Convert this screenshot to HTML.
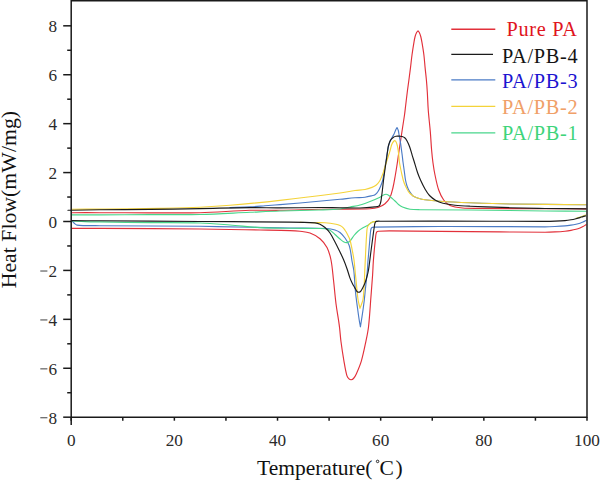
<!DOCTYPE html>
<html><head><meta charset="utf-8"><style>
html,body{margin:0;padding:0;background:#fff;width:600px;height:481px;overflow:hidden}
svg{display:block}
text{font-family:"Liberation Serif",serif}
</style></head><body>
<svg width="600" height="481" viewBox="0 0 600 481">
<rect width="600" height="481" fill="#fff"/>
<g fill="none" stroke-width="1.15" stroke-linejoin="round" stroke-linecap="round">
<path d="M576,218.3 C580,217.4 583,216.3 585.6,215.1" stroke="#d8d850"/>
<path d="M72.00,212.70 C81.33,212.70 90.67,212.69 100.00,212.70 C116.67,212.72 133.33,212.80 150.00,212.80 C166.67,212.80 183.34,213.12 200.00,212.70 C216.68,212.28 233.33,210.80 250.00,210.30 C259.99,210.00 270.00,210.44 280.00,210.30 C293.34,210.11 306.67,209.54 320.00,209.30 C326.67,209.18 333.33,209.28 340.00,209.20 C350.00,209.08 360.02,209.15 370.00,208.70 C372.69,208.58 375.48,208.34 378.00,207.50 C380.48,206.67 383.00,205.37 385.00,203.70 C387.00,202.03 388.85,199.84 390.00,197.50 C391.51,194.44 392.18,190.88 393.00,187.50 C393.92,183.71 394.53,179.84 395.20,176.00 C395.96,171.68 396.64,167.34 397.30,163.00 C398.01,158.34 398.61,153.66 399.30,149.00 C399.84,145.33 400.44,141.67 401.00,138.00 C401.51,134.67 401.99,131.33 402.50,128.00 C403.16,123.67 403.89,119.34 404.50,115.00 C404.92,112.01 405.24,109.00 405.60,106.00 C406.20,101.00 406.77,96.00 407.40,91.00 C407.87,87.33 408.41,83.67 408.90,80.00 C409.45,75.87 409.99,71.74 410.50,67.60 C411.02,63.40 411.43,59.19 412.00,55.00 C412.56,50.89 413.21,46.79 413.90,42.70 C414.25,40.62 414.57,38.53 415.10,36.50 C415.47,35.10 415.95,33.68 416.60,32.40 C416.92,31.78 417.53,31.33 418.00,30.80 C418.43,31.33 419.01,31.79 419.30,32.40 C419.92,33.69 420.38,35.10 420.75,36.50 C421.28,38.53 421.65,40.62 422.00,42.70 C422.70,46.79 423.39,50.88 423.90,55.00 C424.42,59.18 424.68,63.40 425.10,67.60 C425.51,71.74 426.03,75.86 426.40,80.00 C426.76,83.99 427.05,88.00 427.30,92.00 C427.69,98.26 427.83,104.54 428.30,110.80 C428.83,117.74 429.72,124.66 430.30,131.60 C430.82,137.73 431.07,143.87 431.60,150.00 C431.97,154.34 432.41,158.68 433.00,163.00 C433.55,167.02 434.16,171.04 435.00,175.00 C436.06,180.04 437.02,185.17 438.70,190.00 C439.92,193.50 441.55,197.04 443.70,200.00 C445.31,202.21 447.52,204.44 450.00,205.50 C453.78,207.11 458.29,207.59 462.50,208.00 C468.29,208.56 474.17,208.35 480.00,208.40 C501.67,208.58 523.33,208.62 545.00,208.70 C558.67,208.75 572.33,208.77 586.00,208.80" stroke="#e2303a"/>
<path d="M72.00,228.30 C81.33,228.33 90.67,228.35 100.00,228.40 C133.33,228.58 166.67,228.67 200.00,229.00 C220.00,229.20 240.00,229.64 260.00,230.00 C270.00,230.18 280.01,230.28 290.00,230.60 C293.34,230.71 296.69,230.90 300.00,231.30 C303.35,231.70 306.88,231.84 310.00,233.00 C313.54,234.31 317.13,236.26 320.00,238.70 C322.80,241.09 325.31,244.22 327.00,247.50 C328.97,251.32 330.15,255.73 331.00,260.00 C332.31,266.56 332.74,273.33 333.50,280.00 C334.40,287.89 335.01,295.82 336.00,303.70 C336.68,309.15 337.69,314.56 338.50,320.00 C338.89,322.66 339.29,325.33 339.60,328.00 C340.13,332.59 340.40,337.22 341.00,341.80 C341.83,348.15 342.81,354.49 343.90,360.80 C344.74,365.66 345.47,370.61 346.80,375.30 C347.17,376.61 348.07,377.87 349.00,378.80 C349.54,379.34 350.48,379.75 351.20,379.70 C351.98,379.65 352.95,379.13 353.50,378.50 C354.65,377.20 355.57,375.53 356.30,373.90 C358.20,369.63 360.07,365.28 361.40,360.80 C363.24,354.58 364.46,348.16 365.80,341.80 C366.83,336.89 367.93,331.98 368.50,327.00 C369.67,316.71 370.19,306.33 371.00,296.00 C371.55,289.00 372.13,282.00 372.60,275.00 C372.89,270.67 373.01,266.33 373.30,262.00 C373.57,258.00 373.94,254.00 374.30,250.00 C374.60,246.66 374.95,243.33 375.30,240.00 C375.51,238.00 375.64,235.97 376.00,234.00 C376.14,233.24 376.33,232.33 376.80,231.80 C377.16,231.39 377.90,231.24 378.50,231.20 C382.30,230.94 386.17,230.89 390.00,230.90 C406.67,230.95 423.33,231.25 440.00,231.40 C460.00,231.58 480.00,231.75 500.00,231.90 C515.00,232.01 530.00,232.20 545.00,232.20 C548.33,232.20 551.67,232.07 555.00,231.90 C558.34,231.73 561.67,231.51 565.00,231.20 C567.01,231.01 569.01,230.74 571.00,230.40 C572.68,230.11 574.35,229.74 576.00,229.30 C577.35,228.94 578.69,228.50 580.00,228.00 C581.03,227.60 582.04,227.13 583.00,226.60 C584.04,226.03 585.00,225.33 586.00,224.70" stroke="#e2303a"/>
<path d="M230.00,207.60 C236.67,207.37 243.34,207.24 250.00,206.90 C255.01,206.64 260.00,206.18 265.00,205.80 C270.00,205.42 275.00,205.00 280.00,204.60 C286.67,204.07 293.34,203.59 300.00,203.00 C313.34,201.82 326.67,200.56 340.00,199.30 C345.00,198.83 349.99,198.22 355.00,197.80 C358.33,197.52 361.70,197.61 365.00,197.20 C367.36,196.91 369.69,196.28 372.00,195.70 C373.02,195.44 374.16,195.29 375.00,194.70 C376.16,193.89 377.22,192.72 378.00,191.50 C379.22,189.59 380.10,187.41 381.00,185.30 C381.60,183.91 382.12,182.46 382.50,181.00 C383.02,179.03 383.34,177.01 383.70,175.00 C384.17,172.34 384.57,169.67 385.00,167.00 C385.43,164.33 385.87,161.67 386.30,159.00 C386.67,156.67 387.01,154.33 387.40,152.00 C387.74,150.00 387.97,147.96 388.50,146.00 C389.01,144.12 389.74,142.29 390.50,140.50 C391.01,139.29 391.67,138.15 392.30,137.00 C392.77,136.15 393.37,135.37 393.80,134.50 C394.44,133.20 394.89,131.81 395.50,130.50 C395.96,129.51 396.50,128.57 397.00,127.60 C397.43,128.57 398.01,129.49 398.30,130.50 C398.67,131.79 398.76,133.17 399.00,134.50 C399.50,137.27 400.07,140.02 400.50,142.80 C401.14,146.96 401.66,151.13 402.20,155.30 C402.49,157.53 402.71,159.77 403.00,162.00 C403.44,165.34 403.94,168.67 404.40,172.00 C404.77,174.67 405.01,177.36 405.50,180.00 C405.88,182.02 406.35,184.05 407.00,186.00 C407.52,187.55 408.19,189.08 409.00,190.50 C409.86,192.01 410.90,193.46 412.00,194.80 C412.57,195.49 413.24,196.16 414.00,196.60 C415.07,197.22 416.30,197.65 417.50,198.00 C419.96,198.72 422.46,199.43 425.00,199.80 C429.96,200.53 434.99,200.97 440.00,201.30 C449.99,201.97 460.00,202.41 470.00,202.80 C483.33,203.31 496.66,203.78 510.00,204.00 C535.33,204.41 560.67,204.47 586.00,204.70" stroke="#4b7bc6"/>
<path d="M72.00,221.00 C72.67,221.67 73.27,222.40 74.00,223.00 C74.94,223.77 75.85,224.83 77.00,225.10 C79.52,225.69 82.33,225.53 85.00,225.60 C90.00,225.73 95.00,225.67 100.00,225.70 C133.33,225.90 166.67,225.94 200.00,226.30 C216.67,226.48 233.33,226.99 250.00,227.30 C263.33,227.55 276.67,227.79 290.00,228.00 C302.33,228.19 314.70,227.95 327.00,228.50 C329.70,228.62 332.43,229.21 335.00,230.00 C336.76,230.54 338.57,231.36 340.00,232.50 C341.90,234.02 343.56,236.00 345.00,238.00 C346.56,240.17 347.96,242.55 349.00,245.00 C349.80,246.88 350.12,248.98 350.50,251.00 C351.12,254.31 351.43,257.68 352.00,261.00 C352.52,264.01 353.34,266.98 353.75,270.00 C354.20,273.31 354.33,276.67 354.60,280.00 C354.95,284.33 355.15,288.68 355.60,293.00 C356.12,298.01 356.83,303.00 357.50,308.00 C358.03,312.00 358.58,316.01 359.20,320.00 C359.55,322.27 360.00,324.53 360.40,326.80 C360.87,323.87 361.35,320.94 361.80,318.00 C362.21,315.34 362.63,312.67 363.00,310.00 C363.46,306.67 363.92,303.34 364.30,300.00 C364.68,296.67 364.95,293.33 365.30,290.00 C365.65,286.66 366.05,283.34 366.40,280.00 C366.75,276.67 367.12,273.34 367.40,270.00 C367.62,267.34 367.70,264.66 367.90,262.00 C368.07,259.66 368.30,257.33 368.50,255.00 C368.73,252.33 368.97,249.67 369.20,247.00 C369.40,244.67 369.60,242.33 369.80,240.00 C370.00,237.67 370.15,235.33 370.40,233.00 C370.55,231.66 370.63,230.27 371.00,229.00 C371.16,228.43 371.53,227.80 372.00,227.50 C372.53,227.16 373.32,227.11 374.00,227.10 C395.99,226.78 418.00,226.54 440.00,226.50 C475.00,226.44 510.00,226.80 545.00,226.80 C548.33,226.80 551.67,226.65 555.00,226.50 C558.34,226.35 561.68,226.19 565.00,225.90 C567.01,225.72 569.01,225.41 571.00,225.10 C572.67,224.84 574.34,224.55 576.00,224.20 C577.34,223.92 578.69,223.59 580.00,223.20 C581.02,222.89 582.03,222.54 583.00,222.10 C584.03,221.64 585.00,221.03 586.00,220.50" stroke="#4b7bc6"/>
<path d="M72.00,214.80 C81.33,214.83 90.67,214.92 100.00,214.90 C116.67,214.86 133.33,214.67 150.00,214.60 C166.67,214.53 183.34,214.88 200.00,214.50 C216.67,214.12 233.33,213.03 250.00,212.30 C260.00,211.86 270.00,211.33 280.00,211.00 C293.33,210.56 306.67,210.44 320.00,210.00 C326.67,209.78 333.37,209.66 340.00,209.00 C343.37,208.66 346.67,207.67 350.00,207.00 C353.33,206.33 356.73,205.90 360.00,205.00 C363.40,204.07 366.71,202.78 370.00,201.50 C373.38,200.18 376.73,198.76 380.00,197.20 C381.07,196.69 381.94,195.81 383.00,195.30 C383.94,194.84 385.00,194.32 386.00,194.30 C386.84,194.28 387.77,194.73 388.50,195.20 C389.44,195.80 390.16,196.75 391.00,197.50 C392.32,198.68 393.71,199.79 395.00,201.00 C396.21,202.13 397.22,203.48 398.50,204.50 C399.72,205.48 401.06,206.41 402.50,207.00 C404.89,207.98 407.44,208.81 410.00,209.20 C413.28,209.71 416.66,209.66 420.00,209.70 C436.66,209.92 453.33,209.83 470.00,210.00 C495.00,210.26 520.00,210.72 545.00,211.00 C558.67,211.15 572.33,211.20 586.00,211.30" stroke="#49d68b"/>
<path d="M72.00,221.00 C76.33,221.20 80.66,221.46 85.00,221.60 C90.00,221.76 95.00,221.82 100.00,221.90 C116.67,222.16 133.33,222.42 150.00,222.60 C166.67,222.78 183.35,222.50 200.00,223.00 C210.01,223.30 220.01,224.23 230.00,225.00 C240.01,225.77 249.98,227.05 260.00,227.60 C269.98,228.15 280.00,228.15 290.00,228.30 C300.00,228.45 310.00,228.36 320.00,228.50 C321.67,228.52 323.37,228.51 325.00,228.80 C326.70,229.11 328.52,229.46 330.00,230.30 C331.85,231.36 333.36,233.07 335.00,234.50 C336.69,235.97 338.28,237.57 340.00,239.00 C341.28,240.07 342.55,241.26 344.00,242.00 C344.89,242.46 346.05,242.76 347.00,242.60 C348.05,242.42 349.22,241.79 350.00,241.00 C351.56,239.42 352.57,237.25 354.00,235.50 C355.24,233.99 356.52,232.46 358.00,231.20 C359.52,229.90 361.27,228.84 363.00,227.80 C364.61,226.84 366.40,226.16 368.00,225.20 C368.73,224.76 369.32,224.11 370.00,223.60 C370.65,223.11 371.26,222.51 372.00,222.20 C372.93,221.81 373.99,221.66 375.00,221.50 C375.66,221.39 376.33,221.43 377.00,221.40" stroke="#49d68b"/>
<path d="M72.00,209.20 C81.33,209.17 90.67,209.15 100.00,209.10 C110.00,209.05 120.00,209.02 130.00,208.90 C140.00,208.78 150.00,208.64 160.00,208.40 C173.34,208.08 186.68,207.79 200.00,207.20 C210.01,206.76 220.02,206.15 230.00,205.30 C246.68,203.88 263.36,202.26 280.00,200.40 C300.03,198.16 320.02,195.64 340.00,193.00 C345.02,192.34 349.98,191.20 355.00,190.50 C358.32,190.04 361.72,190.10 365.00,189.50 C367.39,189.06 369.73,188.27 372.00,187.40 C373.40,186.87 374.86,186.24 376.00,185.30 C377.36,184.18 378.53,182.70 379.50,181.20 C380.53,179.60 381.25,177.77 382.00,176.00 C382.58,174.63 383.05,173.22 383.50,171.80 C384.05,170.08 384.47,168.32 385.00,166.60 C385.64,164.52 386.33,162.47 387.00,160.40 C387.67,158.33 388.36,156.28 389.00,154.20 C389.53,152.48 390.01,150.74 390.50,149.00 C390.92,147.50 391.18,145.93 391.75,144.50 C392.18,143.43 392.76,142.34 393.50,141.50 C393.88,141.07 394.68,140.54 395.10,140.70 C395.64,140.91 396.12,141.90 396.40,142.60 C396.95,144.00 397.32,145.51 397.60,147.00 C398.12,149.74 398.47,152.53 398.80,155.30 C399.07,157.53 399.10,159.78 399.40,162.00 C399.67,164.01 400.10,166.01 400.50,168.00 C400.97,170.34 401.48,172.67 402.00,175.00 C402.38,176.67 402.71,178.36 403.20,180.00 C403.71,181.69 404.31,183.37 405.00,185.00 C405.58,186.37 406.28,187.69 407.00,189.00 C407.62,190.13 408.22,191.29 409.00,192.30 C409.72,193.22 410.61,194.03 411.50,194.80 C412.28,195.47 413.10,196.12 414.00,196.60 C415.10,197.19 416.30,197.65 417.50,198.00 C419.96,198.72 422.46,199.43 425.00,199.80 C429.96,200.53 434.99,200.97 440.00,201.30 C449.99,201.97 460.00,202.41 470.00,202.80 C483.33,203.31 496.66,203.78 510.00,204.00 C535.33,204.41 560.67,204.47 586.00,204.70" stroke="#f4d33a"/>
<path d="M300.00,222.40 C305.00,222.50 310.00,222.62 315.00,222.70 C318.33,222.75 321.68,222.55 325.00,222.80 C328.68,223.08 332.37,223.62 336.00,224.30 C337.37,224.56 338.74,225.01 340.00,225.60 C341.08,226.11 342.14,226.79 343.00,227.60 C343.80,228.36 344.37,229.37 345.00,230.30 C345.71,231.34 346.38,232.41 347.00,233.50 C347.55,234.47 348.03,235.49 348.50,236.50 C349.03,237.65 349.66,238.78 350.00,240.00 C350.83,242.95 351.40,245.99 352.00,249.00 C352.73,252.65 353.47,256.31 354.00,260.00 C354.47,263.31 354.67,266.67 355.00,270.00 C355.50,275.00 355.98,280.00 356.50,285.00 C357.02,290.00 357.35,295.04 358.10,300.00 C358.52,302.80 359.37,305.53 360.00,308.30 C360.53,306.87 361.12,305.45 361.60,304.00 C362.15,302.35 362.87,300.72 363.10,299.00 C363.73,294.38 363.93,289.67 364.20,285.00 C364.49,280.01 364.58,275.00 364.80,270.00 C364.92,267.33 365.07,264.67 365.20,262.00 C365.47,256.33 365.71,250.67 366.00,245.00 C366.17,241.67 366.36,238.33 366.60,235.00 C366.76,232.66 366.79,230.28 367.20,228.00 C367.36,227.11 367.82,226.26 368.30,225.50 C368.75,224.79 369.36,224.15 370.00,223.60 C370.60,223.08 371.27,222.59 372.00,222.30 C372.94,221.92 373.99,221.78 375.00,221.60 C375.66,221.48 376.33,221.47 377.00,221.40" stroke="#f4d33a"/>
<path d="M68.00,210.30 C69.33,210.27 70.67,210.22 72.00,210.20 C81.33,210.05 90.67,209.90 100.00,209.80 C116.67,209.63 133.33,209.60 150.00,209.40 C166.67,209.20 183.33,208.90 200.00,208.60 C216.67,208.30 233.33,207.75 250.00,207.60 C260.00,207.51 270.00,207.91 280.00,207.90 C293.33,207.88 306.67,207.52 320.00,207.50 C326.67,207.49 333.33,207.72 340.00,207.80 C346.67,207.88 353.34,208.17 360.00,208.00 C365.01,207.87 370.02,207.42 375.00,206.90 C376.36,206.76 377.99,206.72 379.00,206.00 C379.82,205.42 380.18,204.06 380.50,203.00 C380.98,201.39 381.15,199.67 381.40,198.00 C381.75,195.67 382.02,193.34 382.30,191.00 C382.66,188.00 382.94,185.00 383.30,182.00 C383.58,179.66 383.89,177.33 384.20,175.00 C384.56,172.33 384.92,169.66 385.30,167.00 C385.68,164.33 386.12,161.67 386.50,159.00 C386.85,156.50 387.13,153.99 387.50,151.50 C387.80,149.49 388.00,147.46 388.50,145.50 C388.94,143.79 389.41,141.98 390.30,140.50 C391.07,139.22 392.30,138.10 393.50,137.20 C394.20,136.67 395.13,136.33 396.00,136.20 C397.29,136.00 398.67,136.13 400.00,136.20 C400.67,136.23 401.37,136.29 402.00,136.50 C402.94,136.82 403.98,137.15 404.70,137.80 C405.71,138.72 406.53,139.97 407.20,141.20 C408.20,143.04 409.00,145.02 409.70,147.00 C410.66,149.72 411.35,152.54 412.20,155.30 C412.78,157.20 413.41,159.10 414.00,161.00 C415.18,164.83 416.20,168.71 417.50,172.50 C418.37,175.05 419.39,177.55 420.50,180.00 C421.89,183.05 423.32,186.11 425.00,189.00 C426.32,191.27 427.72,193.60 429.50,195.50 C431.22,197.33 433.32,198.95 435.50,200.20 C437.82,201.52 440.41,202.53 443.00,203.20 C446.91,204.20 450.97,204.75 455.00,205.20 C459.97,205.75 464.99,205.97 470.00,206.20 C483.33,206.81 496.66,207.29 510.00,207.70 C521.66,208.06 533.33,208.33 545.00,208.50 C558.67,208.70 572.33,208.70 586.00,208.80" stroke="#1b1b1b"/>
<path d="M72.00,220.60 C81.33,220.67 90.67,220.73 100.00,220.80 C133.33,221.03 166.67,221.27 200.00,221.50 C230.00,221.71 260.00,221.73 290.00,222.10 C298.34,222.20 306.71,222.32 315.00,222.90 C316.71,223.02 318.46,223.49 320.00,224.20 C321.79,225.02 323.51,226.19 325.00,227.50 C326.85,229.12 328.60,230.97 330.00,233.00 C331.94,235.81 333.39,238.97 335.00,242.00 C336.39,244.63 337.70,247.32 339.00,250.00 C340.53,253.15 342.12,256.28 343.50,259.50 C344.79,262.51 345.92,265.60 347.00,268.70 C348.08,271.80 348.87,275.02 350.00,278.10 C350.70,280.02 351.59,281.87 352.50,283.70 C353.25,285.21 354.17,286.63 355.00,288.10 C355.51,289.00 355.89,289.99 356.50,290.80 C356.89,291.32 357.43,291.85 358.00,292.10 C358.43,292.29 359.07,292.29 359.50,292.10 C360.07,291.85 360.59,291.31 361.00,290.80 C361.59,290.05 362.06,289.16 362.50,288.30 C363.39,286.56 364.31,284.82 365.00,283.00 C365.81,280.89 366.41,278.69 367.00,276.50 C367.58,274.35 368.11,272.19 368.50,270.00 C368.97,267.35 369.25,264.67 369.60,262.00 C369.95,259.34 370.26,256.67 370.60,254.00 C370.99,251.00 371.40,248.00 371.80,245.00 C372.20,242.00 372.59,239.00 373.00,236.00 C373.39,233.17 373.75,230.33 374.20,227.50 C374.45,225.89 374.55,224.16 375.10,222.70 C375.32,222.13 375.92,221.58 376.50,221.40 C377.56,221.08 378.83,221.21 380.00,221.20 C400.00,221.11 420.00,221.08 440.00,221.10 C475.00,221.13 510.00,221.33 545.00,221.35 C548.33,221.35 551.67,221.27 555.00,221.15 C558.34,221.02 561.68,220.88 565.00,220.60 C567.01,220.43 569.01,220.14 571.00,219.80 C572.68,219.51 574.34,219.11 576.00,218.70 C577.34,218.37 578.68,218.00 580.00,217.60 C581.01,217.30 581.99,216.91 583.00,216.60 C583.83,216.34 584.67,216.13 585.50,215.90" stroke="#1b1b1b"/>
</g>
<g stroke="#1a1a1a" stroke-width="1.5" fill="none">
<path d="M71.2,0.8 H587 V417.2 H71.2 Z"/>
<line x1="71.2" y1="417.2" x2="71.2" y2="425"/>
<line x1="63.20" y1="417.18" x2="71.20" y2="417.18"/>
<line x1="67.20" y1="392.72" x2="71.20" y2="392.72"/>
<line x1="63.20" y1="368.26" x2="71.20" y2="368.26"/>
<line x1="67.20" y1="343.80" x2="71.20" y2="343.80"/>
<line x1="63.20" y1="319.34" x2="71.20" y2="319.34"/>
<line x1="67.20" y1="294.88" x2="71.20" y2="294.88"/>
<line x1="63.20" y1="270.42" x2="71.20" y2="270.42"/>
<line x1="67.20" y1="245.96" x2="71.20" y2="245.96"/>
<line x1="63.20" y1="221.50" x2="71.20" y2="221.50"/>
<line x1="67.20" y1="197.04" x2="71.20" y2="197.04"/>
<line x1="63.20" y1="172.58" x2="71.20" y2="172.58"/>
<line x1="67.20" y1="148.12" x2="71.20" y2="148.12"/>
<line x1="63.20" y1="123.66" x2="71.20" y2="123.66"/>
<line x1="67.20" y1="99.20" x2="71.20" y2="99.20"/>
<line x1="63.20" y1="74.74" x2="71.20" y2="74.74"/>
<line x1="67.20" y1="50.28" x2="71.20" y2="50.28"/>
<line x1="63.20" y1="25.82" x2="71.20" y2="25.82"/>
<line x1="71.20" y1="417.2" x2="71.20" y2="420.70"/>
<line x1="122.78" y1="417.2" x2="122.78" y2="420.70"/>
<line x1="174.36" y1="417.2" x2="174.36" y2="420.70"/>
<line x1="225.94" y1="417.2" x2="225.94" y2="420.70"/>
<line x1="277.52" y1="417.2" x2="277.52" y2="420.70"/>
<line x1="329.10" y1="417.2" x2="329.10" y2="420.70"/>
<line x1="380.68" y1="417.2" x2="380.68" y2="420.70"/>
<line x1="432.26" y1="417.2" x2="432.26" y2="420.70"/>
<line x1="483.84" y1="417.2" x2="483.84" y2="420.70"/>
<line x1="535.42" y1="417.2" x2="535.42" y2="420.70"/>
<line x1="587.00" y1="417.2" x2="587.00" y2="420.70"/>
</g>
<g font-size="17.2" fill="#2a2a2a">
<text x="57.2" y="423.68" text-anchor="end">8</text>
<line x1="40.3" y1="417.78" x2="47.4" y2="417.78" stroke="#2a2a2a" stroke-width="0.9"/>
<text x="57.2" y="374.76" text-anchor="end">6</text>
<line x1="40.3" y1="368.86" x2="47.4" y2="368.86" stroke="#2a2a2a" stroke-width="0.9"/>
<text x="57.2" y="325.84" text-anchor="end">4</text>
<line x1="40.3" y1="319.94" x2="47.4" y2="319.94" stroke="#2a2a2a" stroke-width="0.9"/>
<text x="57.2" y="276.92" text-anchor="end">2</text>
<line x1="40.3" y1="271.02" x2="47.4" y2="271.02" stroke="#2a2a2a" stroke-width="0.9"/>
<text x="57.2" y="228.00" text-anchor="end">0</text>
<text x="57.2" y="179.08" text-anchor="end">2</text>
<text x="57.2" y="130.16" text-anchor="end">4</text>
<text x="57.2" y="81.24" text-anchor="end">6</text>
<text x="57.2" y="32.32" text-anchor="end">8</text>
<text x="71.20" y="446.2" text-anchor="middle">0</text>
<text x="174.36" y="446.2" text-anchor="middle">20</text>
<text x="277.52" y="446.2" text-anchor="middle">40</text>
<text x="380.68" y="446.2" text-anchor="middle">60</text>
<text x="483.84" y="446.2" text-anchor="middle">80</text>
<text x="587.00" y="446.2" text-anchor="middle">100</text>
</g>
<g font-size="20.3" letter-spacing="0.7">
<line x1="451.3" y1="29.30" x2="495.3" y2="29.30" stroke="#e2303a" stroke-width="1.4"/>
<text x="506.5" y="36.00" fill="#e01420">Pure PA</text>
<line x1="451.3" y1="54.40" x2="493" y2="54.40" stroke="#1b1b1b" stroke-width="1.4"/>
<text x="502.0" y="62.50" fill="#141414">PA/PB-4</text>
<line x1="451.3" y1="79.90" x2="495.3" y2="79.90" stroke="#4b7bc6" stroke-width="1.4"/>
<text x="502.0" y="87.60" fill="#1c14d0">PA/PB-3</text>
<line x1="451.3" y1="106.40" x2="495.3" y2="106.40" stroke="#f4d33a" stroke-width="1.4"/>
<text x="502.0" y="113.70" fill="#f0a068">PA/PB-2</text>
<line x1="451.3" y1="132.90" x2="495.3" y2="132.90" stroke="#49d68b" stroke-width="1.4"/>
<text x="502.0" y="140.10" fill="#3ed47a">PA/PB-1</text>
</g>
<text x="257" y="475.3" font-size="21.5" fill="#111">Temperature(</text>
<circle cx="377.6" cy="461.4" r="1.25" fill="none" stroke="#111" stroke-width="0.9"/>
<text x="379.4" y="475.3" font-size="21.5" fill="#111">C</text>
<text x="395.4" y="475.3" font-size="21.5" fill="#111">)</text>
<text transform="translate(15.8,288.3) rotate(-90)" font-size="21.8" fill="#111">Heat Flow(mW/mg)</text>
</svg>
</body></html>
